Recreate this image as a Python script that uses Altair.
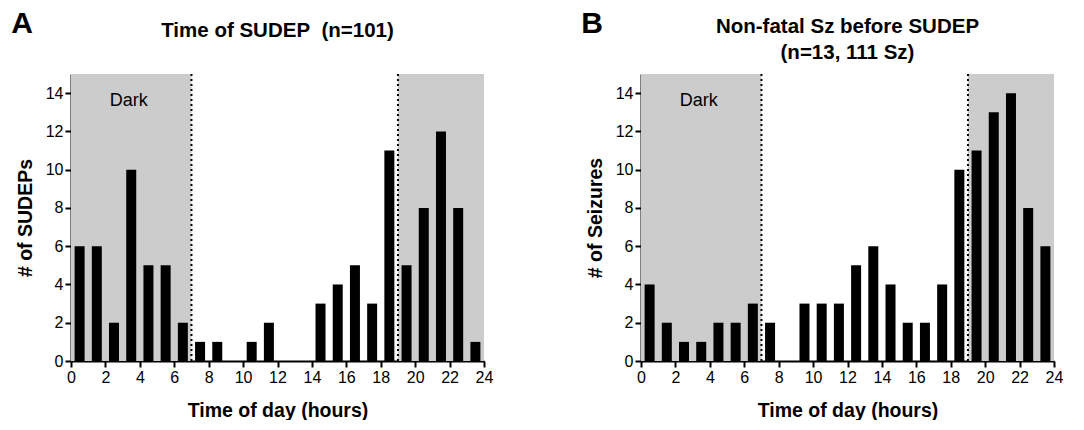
import altair as alt
import pandas as pd

hours = list(range(24))
sudep_counts = [6, 6, 2, 10, 5, 5, 2, 1, 1, 0, 1, 2, 0, 0, 3, 4, 5, 3, 11, 5, 8, 12, 8, 1]
seizure_counts = [4, 2, 1, 1, 2, 2, 3, 2, 0, 3, 3, 3, 5, 6, 4, 2, 2, 4, 10, 11, 13, 14, 8, 6]

dark_start = [0, 19]
dark_end = [7, 24]
boundaries = [7, 19]

x_ticks = list(range(0, 25, 2))
y_ticks = list(range(0, 15, 2))

FONT = "Liberation Sans"
W, H = 413, 287

def panel(counts, ytitle, title_lines, title_dy, letter, letter_dy):
    df = pd.DataFrame({"hour": hours, "count": counts})
    df["center"] = df["hour"] + 0.5
    xs = alt.Scale(domain=[0, 24], nice=False, zero=True, padding=0)
    ys = alt.Scale(domain=[0, 15], nice=False, padding=0)
    xaxis = alt.Axis(values=x_ticks, title="Time of day (hours)", labelFlush=False, labelOverlap=False)
    yaxis = alt.Axis(values=y_ticks, title=ytitle, labelOverlap=False)

    dark = alt.Chart(pd.DataFrame({"s": dark_start, "e": dark_end})).mark_rect(
        color="#cccccc"
    ).encode(
        x=alt.X("s:Q", scale=xs, axis=xaxis),
        x2="e:Q",
        y=alt.value(0),
        y2=alt.value(H),
    )
    bars = alt.Chart(df).mark_bar(size=10, color="black").encode(
        x=alt.X("center:Q", scale=xs, axis=xaxis),
        y=alt.Y("count:Q", scale=ys, axis=yaxis),
    )
    rules = alt.Chart(pd.DataFrame({"b": boundaries})).mark_rule(
        color="black", strokeWidth=2, strokeDash=[2, 3]
    ).encode(x=alt.X("b:Q", scale=xs, axis=xaxis), y=alt.value(0), y2=alt.value(H))
    dark_lbl = alt.Chart(pd.DataFrame({"x": [3.35], "y": [13.6], "t": ["Dark"]})).mark_text(
        font=FONT, fontSize=18, color="black"
    ).encode(
        x=alt.X("x:Q", scale=xs, axis=xaxis),
        y=alt.Y("y:Q", scale=ys, axis=yaxis),
        text="t:N",
    )
    letter_mark = alt.Chart(pd.DataFrame({"t": [letter]})).mark_text(
        font=FONT, fontSize=30, fontWeight="bold", color="black", align="center", baseline="alphabetic"
    ).encode(x=alt.value(-49), y=alt.value(letter_dy), text="t:N")
    title_mark = alt.Chart(pd.DataFrame({"t": [title_lines]})).mark_text(
        font=FONT, fontSize=20.5, fontWeight="bold", color="black", align="center",
        baseline="alphabetic", lineHeight=26,
    ).encode(x=alt.value(W / 2), y=alt.value(title_dy), text="t")

    return alt.layer(dark, bars, rules, dark_lbl, letter_mark, title_mark).properties(
        width=W, height=H,
    )

a = panel(sudep_counts, "# of SUDEPs", "Time of SUDEP\u00a0 (n=101)", -37, "A", -41)
b = panel(seizure_counts, "# of Seizures", ["Non-fatal Sz before SUDEP", "(n=13, 111 Sz)"], -41, "B", -41)

chart = alt.hconcat(a, b, spacing=157, bounds="flush").properties(
    padding={"left": 3, "top": 1, "right": 0, "bottom": 0}
).configure_view(stroke=None).configure_axis(
    grid=False,
    domainColor="black", domainWidth=2,
    tickColor="black", tickWidth=2, tickSize=6,
    labelFont=FONT, labelFontSize=16, labelColor="black", labelPadding=2,
    titleFont=FONT, titleFontSize=19.5, titleFontWeight="bold", titleColor="black",
).configure_axisY(titlePadding=10).configure_axisX(titlePadding=16)

chart.save("out.html", embed_options={"renderer": "svg", "actions": False})
